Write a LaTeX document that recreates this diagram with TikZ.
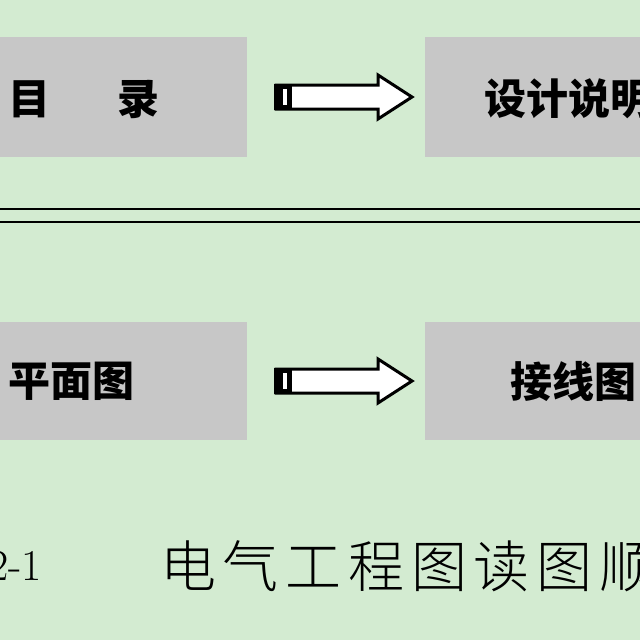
\documentclass[tikz,border=0pt]{standalone}
\usepackage{fontspec}
\newfontfamily\cjk{Noto Sans CJK SC}
\newfontfamily\cjkl{Noto Sans CJK SC Light}
\definecolor{bg}{HTML}{D3EBD1}
\definecolor{bx}{HTML}{C7C7C7}
\begin{document}
\begin{tikzpicture}[x=1pt,y=-1pt,
  box/.style={fill=bx,draw=none},
  lbl/.style={font=\cjk\bfseries\fontsize{42}{42}\selectfont,anchor=west,inner sep=0},
  ar/.style={draw=black,line width=3pt,fill=white}]
\clip (0,0) rectangle (640,640);
\fill[bg] (0,0) rectangle (640,640);
\fill[box] (-5,37) rectangle (247,157);
\fill[box] (425,37) rectangle (660,157);
\fill[box] (-5,322) rectangle (247,440);
\fill[box] (425,322) rectangle (660,440);
\node[lbl] (a) at (8,99) {目\hspace{1.6em}录};
\node[lbl] (b) at (484,99) {设计说明};
\node[lbl] (c) at (8,381) {平面图};
\node[lbl] (d) at (510,381) {接线图};
\draw[line width=1.8pt] (0,209) -- (640,209);
\draw[line width=1.8pt] (0,222) -- (640,222);
\foreach \y in {97,381}{
  \draw[ar,line join=miter] (276,\y-12) -- (378,\y-12) -- (378,\y-22) -- (412,\y) -- (378,\y+22) -- (378,\y+12) -- (276,\y+12) -- cycle;
  \fill (274,\y-13) rectangle (292,\y+13);
  \fill[white] (283,\y-8) rectangle (287,\y+8);
}
\node[font=\cjkl\fontsize{56}{56}\selectfont,anchor=west,inner sep=0] (cap) at (160,566) {电\hspace{0.12em}气\hspace{0.12em}工\hspace{0.12em}程\hspace{0.12em}图\hspace{0.12em}读\hspace{0.12em}图\hspace{0.12em}顺};
\node[font=\fontsize{44}{44}\selectfont,anchor=east,inner sep=0] (n) at (42,566) {2-1};
\end{tikzpicture}
\end{document}
